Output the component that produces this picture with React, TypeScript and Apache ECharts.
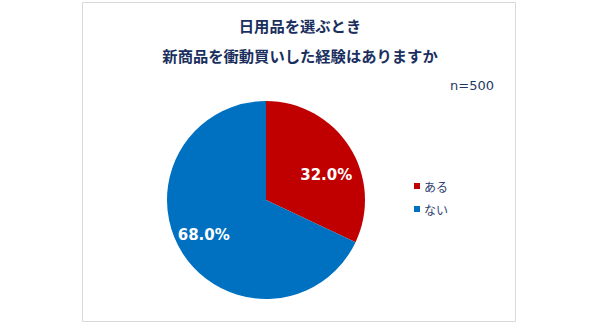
import React, { useEffect, useRef } from "react";
import * as echarts from "echarts";

const titleLines = ["日用品を選ぶとき", "新商品を衝動買いした経験はありますか"];
const sampleNote = "n=500";
const categories = ["ある", "ない"];
const values = [32.0, 68.0];
const colors = ["#c00000", "#0070c0"];

export default function App() {
  const ref = useRef<HTMLDivElement>(null);
  useEffect(() => {
    if (!ref.current) return;
    const chart = echarts.init(ref.current, null, { renderer: "svg" });
    const data = categories.map((name, i) => ({
      name,
      value: values[i],
      itemStyle: { color: colors[i] },
    }));
    const total = values.reduce((a, b) => a + b, 0);
    const labelShift = [
      { dx: 2, dy: 12 },
      { dx: -4, dy: -2 },
    ];
    chart.setOption({
      animation: false,
      backgroundColor: "#ffffff",
      graphic: [
        {
          type: "rect",
          z: -10,
          shape: { x: 82.5, y: 2.5, width: 433, height: 319 },
          style: { fill: "#ffffff", stroke: "#d9d9d9", lineWidth: 1 },
          silent: true,
        },
      ],
      title: [
        {
          text: titleLines.join("\n"),
          left: 300,
          textAlign: "center",
          top: 10,
          textStyle: {
            fontFamily: "'Noto Sans CJK JP', sans-serif",
            fontSize: 15.3,
            fontWeight: "bold",
            color: "#1a2f5e",
            lineHeight: 30,
          },
          padding: 0,
        },
        {
          text: sampleNote,
          right: 106,
          top: 79,
          padding: 0,
          textStyle: {
            fontFamily: "'DejaVu Sans', sans-serif",
            fontSize: 13,
            fontWeight: "normal",
            color: "#1f3864",
          },
        },
      ],
      legend: {
        orient: "vertical",
        left: 414,
        top: 180,
        itemWidth: 6,
        itemHeight: 6,
        itemGap: 11,
        icon: "rect",
        padding: 0,
        textStyle: {
          fontFamily: "'Noto Sans CJK JP', sans-serif",
          fontSize: 12,
          color: "#2f3f6f",
          padding: [0, 0, 0, -1],
        },
        data: categories,
      },
      series: [
        {
          type: "pie",
          center: [266, 200],
          radius: [0, 99],
          startAngle: 90,
          clockwise: true,
          silent: true,
          label: { show: false },
          labelLine: { show: false },
          data,
        },
        {
          type: "pie",
          center: [266, 200],
          radius: [0, 132],
          startAngle: 90,
          clockwise: true,
          silent: true,
          emphasis: { disabled: true },
          label: {
            show: true,
            position: "inside",
            color: "#ffffff",
            fontFamily: "'DejaVu Sans', sans-serif",
            fontSize: 15,
            fontWeight: "bold",
            formatter: (p: any) => ((p.value / total) * 100).toFixed(1) + "%",
          },
          labelLayout: (p: any) => labelShift[p.dataIndex] || {},
          labelLine: { show: false },
          data: categories.map((name, i) => ({
            name,
            value: values[i],
            itemStyle: { color: "rgba(0,0,0,0)" },
          })),
          z: 3,
        },
      ],
    });
    return () => chart.dispose();
  }, []);
  return (
    <div
      ref={ref}
      style={{ position: "absolute", left: 0, top: 0, width: 600, height: 325 }}
    />
  );
}
